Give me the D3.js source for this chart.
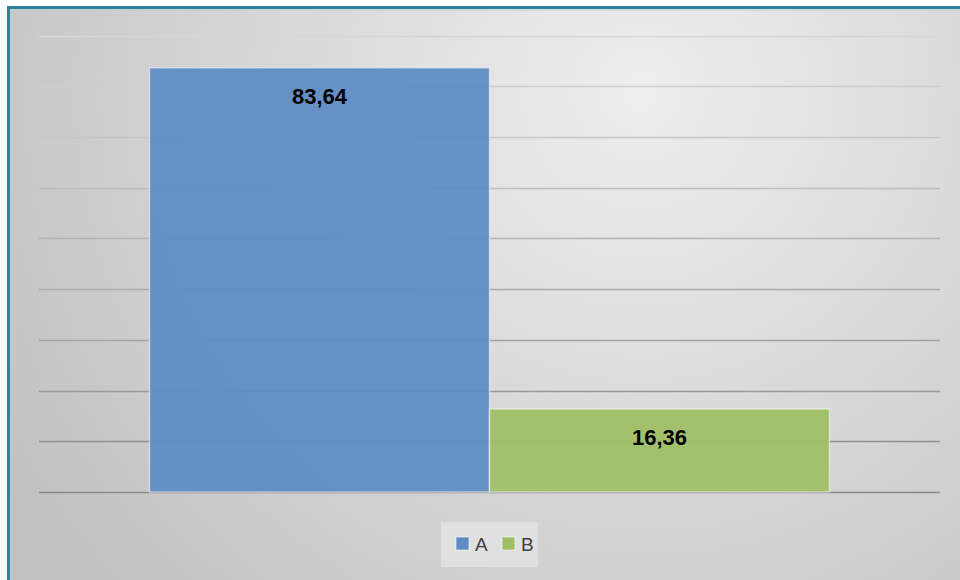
<!DOCTYPE html>
<meta charset="utf-8">

<style>
body { margin: 0; background: #fff; }
.label { font-family: "Liberation Sans", Arial, sans-serif; font-weight: bold; font-size: 22px; fill: #000; }
.legend text { font-family: "Liberation Sans", Arial, sans-serif; font-size: 19px; fill: #404040; }
</style>

<svg width="960" height="580"></svg>
<script src="https://cdn.jsdelivr.net/npm/d3@7"></script>

<script>

var series = ["A", "B"];
var values = [83.64, 16.36];
var labels = ["83,64", "16,36"];
var colors = ["#5f8cc4", "#9fbe66"];
var ticks = [0, 10, 20, 30, 40, 50, 60, 70, 80, 90];

var svg = d3.select("svg"),
    width = +svg.attr("width"),
    height = +svg.attr("height");

var defs = svg.append("defs");
var grad = defs.append("radialGradient")
    .attr("id", "bg")
    .attr("gradientUnits", "userSpaceOnUse")
    .attr("cx", 640).attr("cy", 90).attr("r", 760);
grad.append("stop").attr("offset", "0%").attr("stop-color", "#eeeeee");
grad.append("stop").attr("offset", "100%").attr("stop-color", "#c0c0c0");

// chart area with teal frame
svg.append("rect")
    .attr("x", 8.5).attr("y", 7.5)
    .attr("width", width).attr("height", height)
    .attr("fill", "url(#bg)")
    .attr("stroke", "#2e8299")
    .attr("stroke-width", 3);
svg.append("rect")
    .attr("x", 11).attr("y", 10)
    .attr("width", width).attr("height", height)
    .attr("fill", "none")
    .attr("stroke", "#b7d3dc")
    .attr("stroke-width", 1);

var x = d3.scaleBand()
    .domain(series)
    .range([39, 940])
    .paddingInner(0)
    .paddingOuter(0.325);

var y = d3.scaleLinear()
    .domain([0, 90])
    .range([492, 35.5]);

var gridColor = d3.scaleLinear()
    .domain([90, 0])
    .range(["#d6d6d6", "#888888"]);

svg.append("g")
    .selectAll("line")
    .data(ticks)
    .enter().append("line")
    .attr("x1", 39).attr("x2", 940)
    .attr("y1", function(d) { return Math.round(y(d)) + 0.5; })
    .attr("y2", function(d) { return Math.round(y(d)) + 0.5; })
    .attr("stroke", function(d) { return gridColor(d); })
    .attr("stroke-width", 1.5);

svg.append("g")
    .selectAll("rect")
    .data(series)
    .enter().append("rect")
    .attr("x", function(d) { return x(d); })
    .attr("y", function(d, i) { return y(values[i]); })
    .attr("width", x.bandwidth())
    .attr("height", function(d, i) { return y(0) - y(values[i]); })
    .attr("fill", function(d, i) { return colors[i]; })
    .attr("fill-opacity", 0.94)
    .attr("stroke", "rgba(255,255,255,0.5)")
    .attr("stroke-width", 1.5);

svg.append("g")
    .selectAll("text")
    .data(series)
    .enter().append("text")
    .attr("class", "label")
    .attr("x", function(d) { return x(d) + x.bandwidth() / 2; })
    .attr("y", function(d, i) { return y(values[i]) + 36; })
    .attr("text-anchor", "middle")
    .text(function(d, i) { return labels[i]; });

// legend
var lg = svg.append("g").attr("class", "legend");
lg.append("rect")
    .attr("x", 441).attr("y", 522)
    .attr("width", 97).attr("height", 45)
    .attr("fill", "#e3e3e3")
    .attr("fill-opacity", 0.8);

var item = lg.selectAll("g")
    .data(series)
    .enter().append("g")
    .attr("transform", function(d, i) { return "translate(" + (456 + i * 46) + ",537)"; });

item.append("rect")
    .attr("width", 13).attr("height", 13)
    .attr("fill", function(d, i) { return colors[i]; })
    .attr("stroke", "rgba(255,255,255,0.6)");

item.append("text")
    .attr("x", 19).attr("y", 14)
    .text(function(d) { return d; });

</script>
